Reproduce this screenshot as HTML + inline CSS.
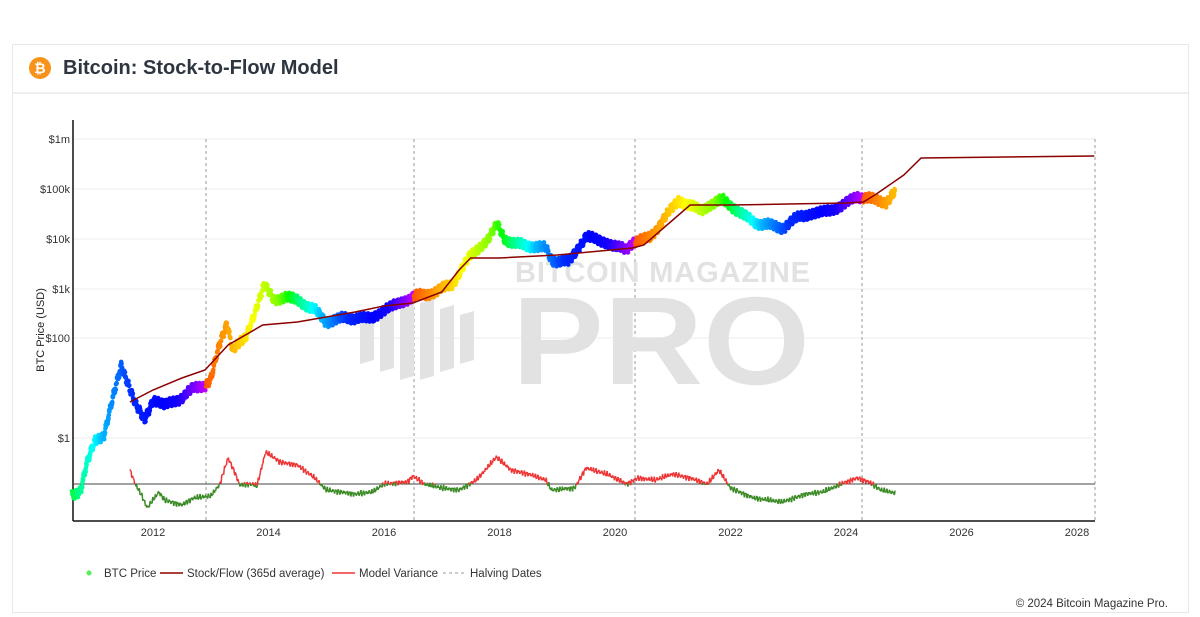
<!DOCTYPE html>
<html><head><meta charset="utf-8"><style>
body{margin:0;background:#fff;font-family:"Liberation Sans",sans-serif;}
.card{position:absolute;left:12px;top:44px;width:1175px;height:567px;border:1px solid #e8e8e8;}
.hdr{position:absolute;left:0;top:0;right:0;height:47px;border-bottom:2px solid #eee;}
.ic{position:absolute;left:16px;top:12px;width:22px;height:22px;border-radius:50%;background:#f7931a;color:#fff;font-weight:bold;font-size:14px;text-align:center;line-height:22px;}
.tt{position:absolute;left:50px;top:12px;font-size:20px;font-weight:bold;color:#2d3540;}
svg{position:absolute;left:0;top:0}
</style></head><body>
<div class="card"><div class="hdr"><div class="ic">₿</div><div class="tt">Bitcoin: Stock-to-Flow Model</div></div></div>
<svg id="s" width="1200" height="617" font-family="Liberation Sans, sans-serif"></svg>
<script>
const s=document.getElementById('s');let h='';
const X=y=>153+(y-2012)*57.75;
[[139,'$1m'],[189,'$100k'],[239,'$10k'],[289,'$1k'],[338,'$100'],[438,'$1']].forEach(([y,t])=>{h+=`<line x1="73" x2="1095" y1="${y}" y2="${y}" stroke="#eee"/><text x="70" y="${y+4}" font-size="11" text-anchor="end" fill="#333">${t}</text>`;});
[206,414,635,862,1095].forEach(x=>h+=`<line x1="${x}" x2="${x}" y1="139" y2="521" stroke="#999" stroke-dasharray="3,3"/>`);
[2012,2014,2016,2018,2020,2022,2024,2026,2028].forEach(y=>h+=`<text x="${X(y)}" y="536" font-size="11" text-anchor="middle" fill="#333">${y}</text>`);
h+=`<line x1="73" x2="73" y1="120" y2="521" stroke="#111" stroke-width="1.5"/><line x1="73" x2="1095" y1="521" y2="521" stroke="#111" stroke-width="1.5"/>`;
h+=`<text transform="translate(44,330) rotate(-90)" font-size="11" text-anchor="middle" fill="#222">BTC Price (USD)</text>`;
h+=`<g fill="#e2e2e2"><text x="515" y="282" font-size="29" font-weight="bold" textLength="295">BITCOIN MAGAZINE</text><text x="512" y="384" font-size="125" font-weight="bold" textLength="298" lengthAdjust="spacingAndGlyphs">PRO</text>`;
for(let i=0;i<6;i++)h+=`<polygon points="${360+i*20},${300+Math.abs(i-2.5)*6} ${374+i*20},${296+Math.abs(i-2.5)*6} ${374+i*20},${380-Math.abs(i-2.5)*8} ${360+i*20},${384-Math.abs(i-2.5)*8}"/>`;
h+=`</g>`;
h+=`<line x1="73" x2="1095" y1="484" y2="484" stroke="#444" stroke-width="1"/>`;
const lerp=(pts,t)=>{for(let i=0;i<pts.length-1;i++){if(t>=pts[i][0]&&t<=pts[i+1][0]){const f=(t-pts[i][0])/(pts[i+1][0]-pts[i][0]);return pts[i][1]+f*(pts[i+1][1]-pts[i][1]);}}return null;};
const P=[[2010.6,495],[2010.75,490],[2010.85,465],[2011.0,440],[2011.15,435],[2011.3,400],[2011.45,365],[2011.55,380],[2011.7,405],[2011.85,420],[2012.0,400],[2012.2,405],[2012.5,398],[2012.7,388],[2012.9,385],[2013.0,380],[2013.15,345],[2013.28,322],[2013.38,350],[2013.6,338],[2013.85,298],[2013.93,285],[2014.1,300],[2014.3,297],[2014.5,300],[2014.8,310],[2015.0,322],[2015.3,318],[2015.8,318],[2016.0,310],[2016.5,297],[2016.9,292],[2017.2,283],[2017.5,255],[2017.8,240],[2017.96,224],[2018.1,240],[2018.3,244],[2018.8,248],[2018.9,260],[2019.2,262],[2019.5,236],[2019.9,244],[2020.2,250],[2020.3,242],[2020.6,238],[2020.9,215],[2021.1,200],[2021.3,206],[2021.5,210],[2021.85,199],[2022.1,210],[2022.4,222],[2022.9,228],[2023.2,216],[2023.6,212],[2023.9,207],[2024.2,196],[2024.5,200],[2024.7,202],[2024.85,192]];
const hv=[2012.92,2016.52,2020.35,2024.3];
const HM=[[0,20],[0.2,55],[0.35,90],[0.45,150],[0.55,195],[0.68,230],[0.88,245],[1,285]];
const hue=t=>{let a=2008.9,b=2012.92;for(const x of hv){if(t<x){b=x;break;}a=x;b=x+3.95;}const f=Math.min(1,Math.max(0,(t-a)/(b-a)));return lerp(HM,f);};
for(let t=2010.6;t<=2024.85;t+=0.005){const y=lerp(P,t)+Math.sin(t*97)*2.5+Math.sin(t*413)*2+Math.sin(t*1271)*1.2;h+=`<circle cx="${X(t).toFixed(1)}" cy="${y.toFixed(1)}" r="2.3" fill="hsl(${hue(t).toFixed(0)},100%,50%)"/>`;}
const S=[[2011.6,402],[2012.0,390],[2012.5,378],[2012.9,370],[2013.3,345],[2013.9,325],[2014.5,322],[2015.5,312],[2016.0,306],[2016.5,303],[2017.0,292],[2017.3,270],[2017.5,258],[2018.0,258],[2019.0,255],[2020.3,248],[2020.5,245],[2021.0,220],[2021.3,205],[2022,205],[2023,204],[2024.0,203],[2024.3,202],[2024.5,195],[2025.0,175],[2025.3,158],[2028.3,156]];
h+=`<polyline fill="none" stroke="#8b0000" stroke-width="1.5" points="${S.map(p=>X(p[0]).toFixed(1)+','+p[1]).join(' ')}"/>`;
const V=[[2011.6,470],[2011.7,485],[2011.8,495],[2011.9,508],[2012.1,492],[2012.2,500],[2012.5,505],[2012.7,498],[2013.0,496],[2013.15,485],[2013.3,458],[2013.4,470],[2013.5,485],[2013.7,484],[2013.8,486],[2013.95,452],[2014.2,462],[2014.5,465],[2014.8,478],[2015.0,490],[2015.5,494],[2015.8,492],[2016.0,484],[2016.4,482],[2016.5,476],[2016.7,484],[2017.0,488],[2017.3,490],[2017.6,480],[2017.95,457],[2018.2,470],[2018.5,474],[2018.8,480],[2018.9,490],[2019.3,488],[2019.5,468],[2019.9,475],[2020.2,484],[2020.4,478],[2020.7,480],[2021.0,474],[2021.3,478],[2021.6,484],[2021.8,470],[2022.0,488],[2022.4,498],[2022.9,502],[2023.3,494],[2023.6,492],[2024.0,482],[2024.2,478],[2024.4,482],[2024.6,490],[2024.85,493]];
let prev=null;
for(let t=2011.6;t<=2024.85;t+=0.008){let y=lerp(V,t);if(y==null)continue;y+=Math.sin(t*131)*1.5+Math.sin(t*517)*1.3+Math.sin(t*1733)*0.8;const x=X(t);if(prev){h+=`<line x1="${prev[0].toFixed(1)}" y1="${prev[1].toFixed(1)}" x2="${x.toFixed(1)}" y2="${y.toFixed(1)}" stroke="${(y+prev[1])/2<484?'#ee3333':'#3a8a25'}" stroke-width="1.5"/>`;}prev=[x,y];}
h+=`<g font-size="11.5" fill="#333"><circle cx="89" cy="573" r="2.5" fill="#55ee55"/><text x="104" y="577">BTC Price</text>
<line x1="160" x2="183" y1="573" y2="573" stroke="#8b0000" stroke-width="1.5"/><text x="187" y="577">Stock/Flow (365d average)</text>
<line x1="332" x2="355" y1="573" y2="573" stroke="#ee3333" stroke-width="1.5"/><text x="359" y="577">Model Variance</text>
<line x1="443" x2="466" y1="573" y2="573" stroke="#999" stroke-dasharray="3,3"/><text x="470" y="577">Halving Dates</text>
<text x="1168" y="607" text-anchor="end">© 2024 Bitcoin Magazine Pro.</text></g>`;
s.innerHTML=h;
</script>
</body></html>
